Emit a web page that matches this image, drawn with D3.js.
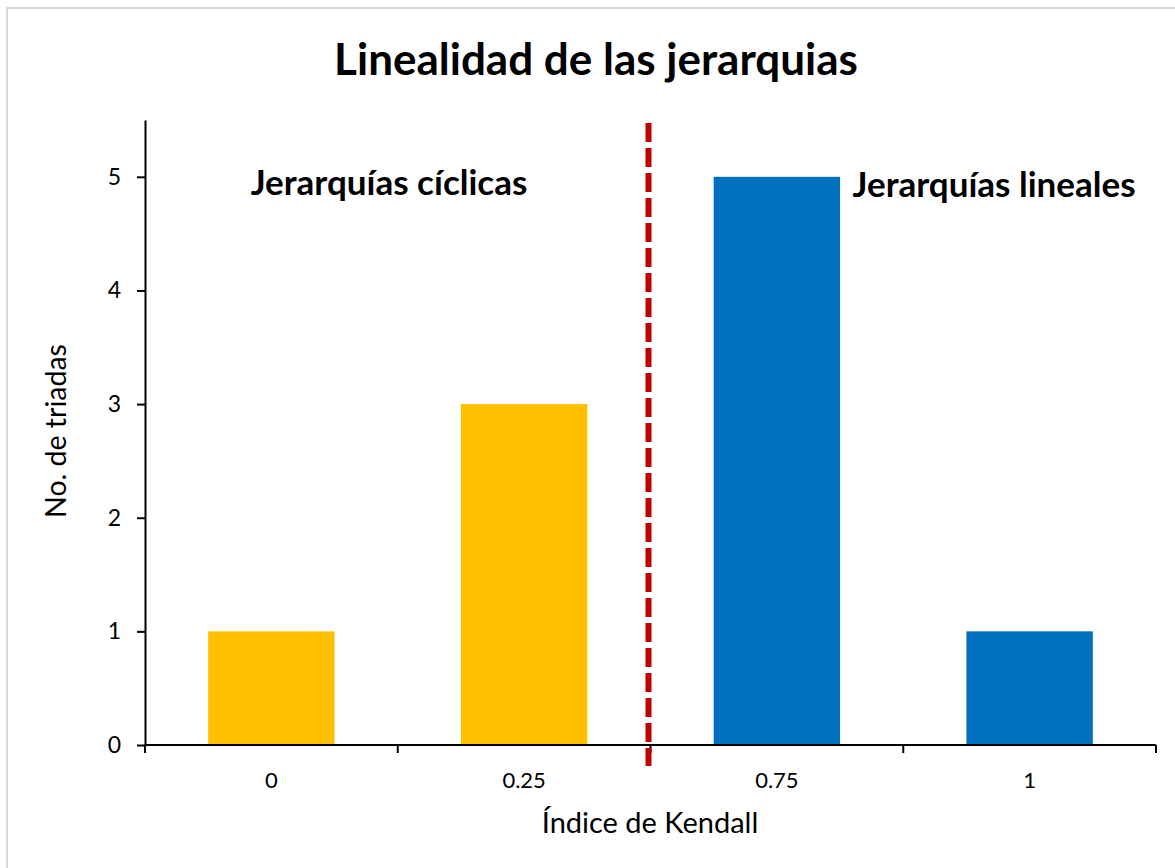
<!DOCTYPE html>
<html>
<head>
<meta charset="utf-8">
<script src="https://cdn.jsdelivr.net/npm/d3@7"></script>
<style>
  html, body { margin: 0; padding: 0; background: #fff; }
  svg { display: block; }
  text { font-family: Lato, "Open Sans", sans-serif; fill: #000; }
</style>
</head>
<body>
<svg id="chart" width="1175" height="868"></svg>
<script>
// Kendall linearity index categories and count of triads in each
const categories = ["0", "0.25", "0.75", "1"];
const triads = [1, 3, 5, 1];
const barColors = ["#FFC000", "#FFC000", "#0070C0", "#0070C0"];
const yTicks = [0, 1, 2, 3, 4, 5];

const svg = d3.select("#chart");

// outer chart frame
svg.append("rect")
  .attr("x", 7).attr("y", 8)
  .attr("width", 1180).attr("height", 880)
  .attr("fill", "#fff")
  .attr("stroke", "#d9d9d9").attr("stroke-width", 2);

const plotLeft = 145, plotRight = 1156, plotTop = 120, plotBottom = 745;

const x = d3.scaleBand().domain(categories).range([plotLeft, plotRight]).paddingInner(0.5).paddingOuter(0.25);
const y = d3.scaleLinear().domain([0, 5.5]).range([plotBottom, plotTop]);

// bars
svg.append("g").selectAll("rect")
  .data(categories)
  .join("rect")
  .attr("x", d => x(d))
  .attr("y", (d, i) => y(triads[i]))
  .attr("width", x.bandwidth())
  .attr("height", (d, i) => y(0) - y(triads[i]))
  .attr("fill", (d, i) => barColors[i]);

// y axis
const yAxis = svg.append("g")
  .attr("transform", `translate(${plotLeft},0)`)
  .call(d3.axisLeft(y).tickValues(yTicks).tickFormat(d3.format("d")).tickSize(8).tickPadding(16).tickSizeOuter(0));
yAxis.select(".domain").attr("stroke", "#000").attr("stroke-width", 2);
yAxis.selectAll(".tick line").attr("stroke", "#000").attr("stroke-width", 2);
yAxis.selectAll(".tick text").attr("font-size", 23).attr("font-family", "Lato, sans-serif");

// x axis: ticks at category boundaries
const step = x.step();
const boundaries = d3.range(categories.length + 1).map(i => plotLeft + i * step);
const xg = svg.append("g");
xg.append("line")
  .attr("x1", plotLeft).attr("x2", plotRight)
  .attr("y1", plotBottom).attr("y2", plotBottom)
  .attr("stroke", "#000").attr("stroke-width", 2);
xg.selectAll("line.tk")
  .data(boundaries)
  .join("line")
  .attr("class", "tk")
  .attr("x1", d => d).attr("x2", d => d)
  .attr("y1", plotBottom).attr("y2", plotBottom + 8)
  .attr("stroke", "#000").attr("stroke-width", 2);
xg.selectAll("text")
  .data(categories)
  .join("text")
  .attr("x", d => x(d) + x.bandwidth() / 2)
  .attr("y", 788)
  .attr("text-anchor", "middle")
  .attr("font-size", 22)
  .text(d => d);

// divider between cyclic and linear hierarchies
const divX = plotLeft + 2 * step - 2;
svg.append("line")
  .attr("x1", divX).attr("x2", divX)
  .attr("y1", 123).attr("y2", 766)
  .attr("stroke", "#C00000")
  .attr("stroke-width", 6)
  .attr("stroke-dasharray", "19,6");

// title
svg.append("text")
  .attr("x", 596).attr("y", 75)
  .attr("text-anchor", "middle")
  .attr("font-size", 44).attr("font-weight", "bold")
  .text("Linealidad de las jerarquias");

// region labels
svg.append("text")
  .attr("x", 389).attr("y", 195)
  .attr("text-anchor", "middle")
  .attr("font-size", 35).attr("font-weight", "bold")
  .text("Jerarquías cíclicas");
svg.append("text")
  .attr("x", 994).attr("y", 197)
  .attr("text-anchor", "middle")
  .attr("font-size", 35).attr("font-weight", "bold")
  .text("Jerarquías lineales");

// axis titles
svg.append("text")
  .attr("x", 650).attr("y", 833)
  .attr("text-anchor", "middle")
  .attr("font-size", 29)
  .text("Índice de Kendall");
svg.append("text")
  .attr("transform", "translate(66,431) rotate(-90)")
  .attr("text-anchor", "middle")
  .attr("font-size", 28.5)
  .text("No. de triadas");
</script>
</body>
</html>
